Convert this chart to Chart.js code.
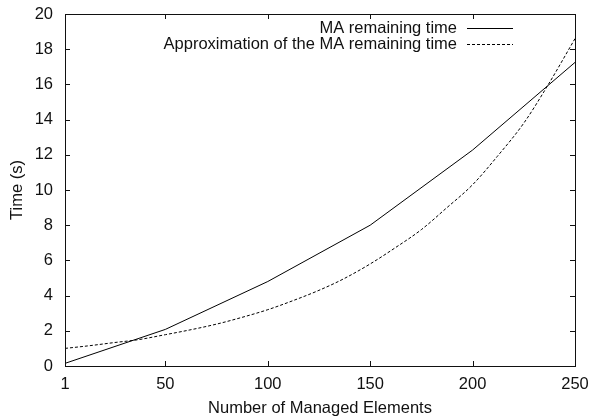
<!DOCTYPE html>
<html>
<head>
<meta charset="utf-8">
<script src="https://cdn.jsdelivr.net/npm/chart.js@4/dist/chart.umd.min.js"></script>
<style>
  html, body { margin: 0; padding: 0; background: #fff; }
  canvas { display: block; }
</style>
</head>
<body>
<canvas id="c" width="589" height="420"></canvas>
<script>
// ---- data ----
const xTickValues = [1, 50, 100, 150, 200, 250];
const maX = [1, 50, 100, 150, 200, 250];
const maTime = [0.15, 2.08, 4.8, 8.0, 12.27, 17.25];
const approxX = [1, 12, 25, 37, 50, 62, 75, 87, 100, 112, 125, 137, 150, 162, 175, 187, 200, 212, 225, 237, 250];
const approxTime = [1.0, 1.14, 1.33, 1.5, 1.78, 2.05, 2.38, 2.75, 3.2, 3.7, 4.3, 4.95, 5.8, 6.7, 7.75, 8.95, 10.3, 11.9, 13.8, 16.0, 18.6];
const seriesLabels = ['MA remaining time', 'Approximation of the MA remaining time'];
const xTitle = 'Number of Managed Elements';
const yTitle = 'Time (s)';

const FONT = 'Liberation Sans, Arial, Helvetica, sans-serif';
const FSIZE = 16.5;
const INK = '#111';

const toPts = (xs, ys) => xs.map((x, i) => ({ x: x, y: ys[i] }));

const framePlugin = {
  id: 'frame',
  afterDraw(chart) {
    const { ctx, chartArea: a, scales } = chart;
    ctx.save();
    ctx.strokeStyle = INK;
    ctx.lineWidth = 1;
    ctx.setLineDash([]);
    ctx.strokeRect(Math.round(a.left) + 0.5, Math.round(a.top) + 0.5,
                   Math.round(a.right - a.left), Math.round(a.bottom - a.top));
    const L = 5;
    ctx.beginPath();
    scales.x.ticks.forEach(t => {
      const px = Math.round(scales.x.getPixelForValue(t.value)) + 0.5;
      ctx.moveTo(px, a.bottom); ctx.lineTo(px, a.bottom - L);
      ctx.moveTo(px, a.top); ctx.lineTo(px, a.top + L);
    });
    scales.y.ticks.forEach(t => {
      const py = Math.round(scales.y.getPixelForValue(t.value)) + 0.5;
      ctx.moveTo(a.left, py); ctx.lineTo(a.left + L, py);
      ctx.moveTo(a.right, py); ctx.lineTo(a.right - L, py);
    });
    ctx.stroke();

    // legend (text on the left, sample on the right, gnuplot style)
    ctx.font = FSIZE + 'px ' + FONT;
    ctx.textAlign = 'right';
    ctx.textBaseline = 'middle';
    const textRight = a.right - 118;
    const sx0 = a.right - 108, sx1 = a.right - 62;
    chart.data.datasets.forEach((ds, i) => {
      const y = a.top + 14 + i * 16;
      ctx.fillStyle = INK;
      ctx.fillText(ds.label, textRight, y);
      ctx.beginPath();
      ctx.strokeStyle = ds.borderColor;
      ctx.lineWidth = ds.borderWidth;
      ctx.setLineDash(ds.borderDash || []);
      ctx.moveTo(sx0, Math.round(y) + 0.5);
      ctx.lineTo(sx1, Math.round(y) + 0.5);
      ctx.stroke();
    });
    ctx.restore();
  }
};

new Chart(document.getElementById('c'), {
  type: 'line',
  data: {
    datasets: [
      {
        label: seriesLabels[0],
        data: toPts(maX, maTime),
        borderColor: '#000',
        borderWidth: 1,
        pointRadius: 0,
        tension: 0,
        fill: false
      },
      {
        label: seriesLabels[1],
        data: toPts(approxX, approxTime),
        borderColor: '#000',
        borderWidth: 1,
        borderDash: [3, 2],
        pointRadius: 0,
        cubicInterpolationMode: 'monotone',
        fill: false
      }
    ]
  },
  options: {
    responsive: false,
    animation: false,
    devicePixelRatio: 1,
    layout: { padding: { top: 14, right: 14, left: 0, bottom: 0 } },
    plugins: { legend: { display: false }, tooltip: { enabled: false } },
    scales: {
      x: {
        type: 'linear',
        min: 1, max: 250,
        afterBuildTicks: s => { s.ticks = xTickValues.map(v => ({ value: v })); },
        afterFit: s => { s.height = 54; s.paddingLeft = 0; s.paddingRight = 0; },
        grid: { display: false, drawTicks: false },
        border: { display: false },
        ticks: { color: INK, font: { family: FONT, size: FSIZE }, padding: 9, maxRotation: 0, autoSkip: false },
        title: { display: true, text: xTitle, color: INK, font: { family: FONT, size: FSIZE }, padding: { top: 0, bottom: 2 } }
      },
      y: {
        min: 0, max: 20,
        afterFit: s => { s.width = 65; s.paddingTop = 0; s.paddingBottom = 0; },
        grid: { display: false, drawTicks: false },
        border: { display: false },
        ticks: { stepSize: 2, color: INK, font: { family: FONT, size: FSIZE }, padding: 12 },
        title: { display: true, text: yTitle, color: INK, font: { family: FONT, size: FSIZE }, padding: { top: 8, bottom: 0 } }
      }
    }
  },
  plugins: [framePlugin]
});
</script>
</body>
</html>
